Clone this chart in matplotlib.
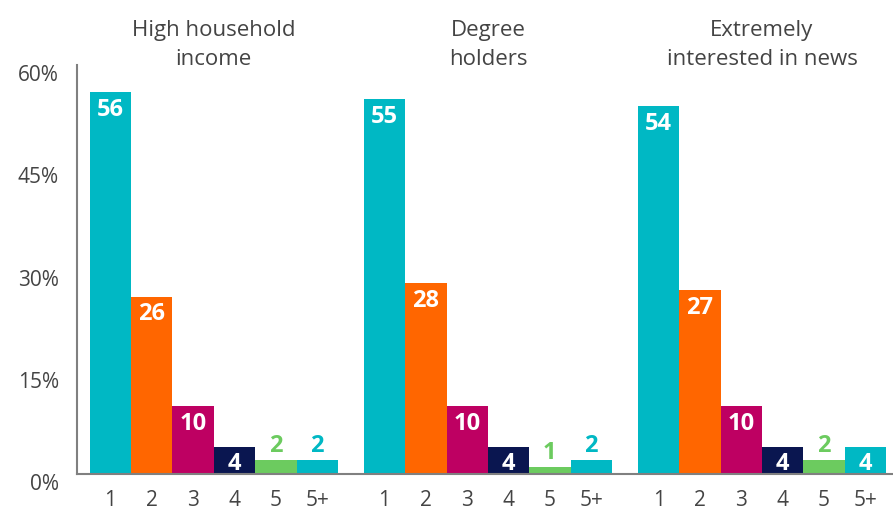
import numpy as np
import matplotlib
matplotlib.use("Agg")
import matplotlib.pyplot as plt
from matplotlib.transforms import ScaledTranslation

plt.rcParams['font.family'] = ['Open Sans', 'DejaVu Sans']

groups = ["High household\nincome", "Degree\nholders", "Extremely\ninterested in news"]
categories = ["1", "2", "3", "4", "5", "5+"]
high_income = [56, 26, 10, 4, 2, 2]
degree = [55, 28, 10, 4, 1, 2]
news = [54, 27, 10, 4, 2, 4]
values = [high_income, degree, news]

bar_colors = ["#00B8C4", "#FF6600", "#BE0062", "#0A1650", "#6CCB5F", "#00B8C4"]
text_gray = "#444444"
group_step = 6.63

fig = plt.figure(figsize=(8.93, 5.10), dpi=100)
ax = fig.add_axes([77 / 893, 1 - 475 / 510, 1 - 77 / 893, (475 - 66) / 510])

title_offset = ScaledTranslation(0, -4 / 100, fig.dpi_scale_trans)

xticks, xlabels = [], []
for g, vals in enumerate(values):
    x = g * group_step + np.arange(len(vals))
    ax.bar(x, vals, width=1.0, color=bar_colors, linewidth=0)
    for xi, v, c in zip(x, vals, bar_colors):
        if v >= 4:
            ax.annotate(str(v), (xi, v), xytext=(0, -12), textcoords="offset points",
                        ha="center", va="center", color="white",
                        fontsize=17, fontweight="bold")
        else:
            ax.annotate(str(v), (xi, v), xytext=(0, 11), textcoords="offset points",
                        ha="center", va="center", color=c,
                        fontsize=17, fontweight="bold")
    xticks.extend(x)
    xlabels.extend(categories)
    ax.text(g * group_step + 2.5, 1.0, groups[g],
            transform=ax.get_xaxis_transform() + title_offset,
            ha="center", va="bottom", fontsize=16, color=text_gray,
            linespacing=1.5)

ax.set_xlim(-0.81, 2 * group_step + 5.5 + 0.17)
ax.set_ylim(0, 60)
ax.set_yticks([0, 15, 30, 45, 60])
ax.set_yticklabels(["0%", "15%", "30%", "45%", "60%"])
ax.set_xticks(xticks)
ax.set_xticklabels(xlabels)
ax.tick_params(axis="both", length=0, labelsize=15, labelcolor=text_gray)
ax.tick_params(axis="y", pad=13)
ax.tick_params(axis="x", pad=11)
offset = ScaledTranslation(0, -7 / 100, fig.dpi_scale_trans)
for lbl in ax.get_yticklabels():
    lbl.set_transform(lbl.get_transform() + offset)

for side in ["top", "right"]:
    ax.spines[side].set_visible(False)
for side in ["left", "bottom"]:
    ax.spines[side].set_color("#808080")
    ax.spines[side].set_linewidth(1.5)

fig.savefig("out.png", dpi=100)
